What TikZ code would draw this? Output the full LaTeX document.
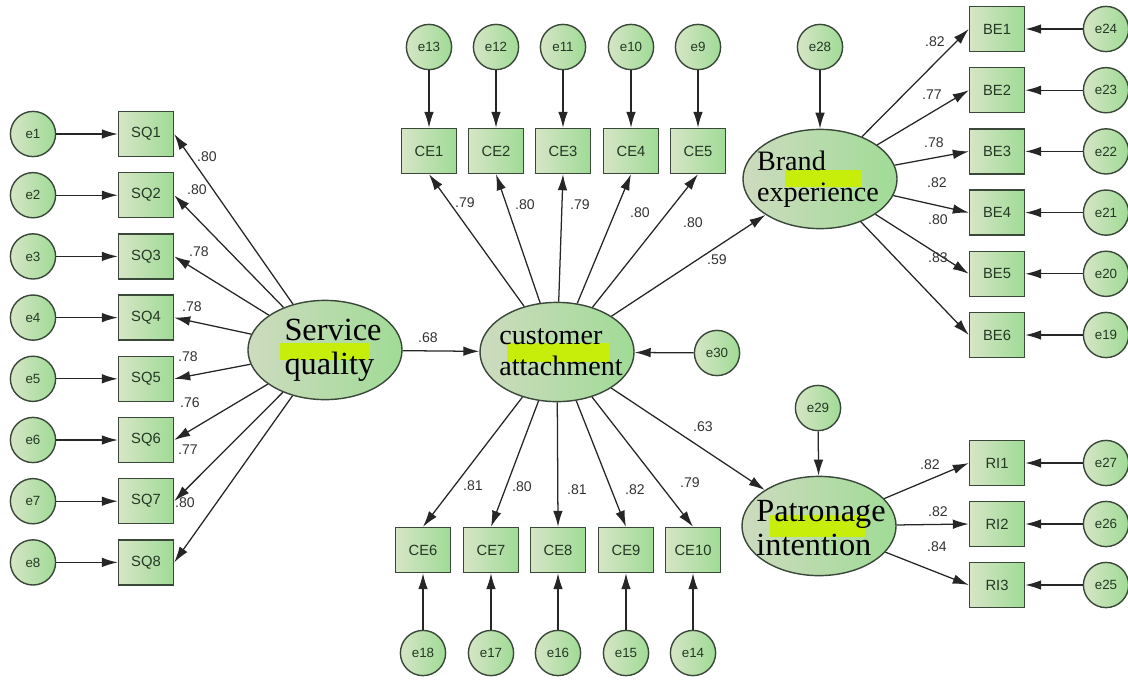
\documentclass[tikz,border=0pt]{standalone}
\usepackage{fontspec}
\setmainfont{Liberation Serif}
\setsansfont{Liberation Sans}
\usetikzlibrary{arrows.meta,shapes.geometric}

\definecolor{fillLight}{HTML}{D6E5C6}
\definecolor{fillDark}{HTML}{A0DB96}
\definecolor{rimColor}{HTML}{3A483A}
\definecolor{markColor}{HTML}{C6EE0A}
\definecolor{nameColor}{HTML}{243824}

\tikzset{
    obsBox/.style={rectangle, draw=rimColor, line width=1pt,
        left color=fillLight, right color=fillDark,
        minimum width=1.375cm, minimum height=1.125cm, inner sep=0pt,
        text=nameColor, font=\sffamily\fontsize{10.5}{12}\selectfont},
    errCircle/.style={circle, draw=rimColor, line width=1pt,
        left color=fillLight, right color=fillDark,
        minimum size=1.13cm, inner sep=0pt,
        text=nameColor, font=\sffamily\fontsize{9.5}{11}\selectfont},
    latent/.style={ellipse, draw=rimColor, line width=1pt,
        left color=fillLight!90!gray, right color=fillDark,
        minimum width=3.85cm, minimum height=2.48cm, inner sep=0pt},
    latentText/.style={align=left, inner sep=0pt,
        font=\fontsize{20}{22}\selectfont},
    bigText/.style={font=\fontsize{23}{24}\selectfont},
    coefText/.style={inner sep=0pt, text=black!80,
        font=\sffamily\fontsize{10}{12}\selectfont},
    link/.style={draw=black!85, line width=0.9pt,
        -{Latex[length=4mm,width=2.4mm]}}
}

\newcommand{\markBar}[4]
{
    \fill[markColor] (#1,#2) rectangle (#3,#4);
}

\begin{document}
\begin{tikzpicture}[x=0.025cm, y=-0.025cm]

    \useasboundingbox (0,0) rectangle (1128,679);

    %draws latent variables
    \node[latent] (sq) at (325,350) {};
    \markBar{280}{343}{370}{360};
    \node[latentText, bigText] (sqtxt) at (333,350) {Service\\quality};

    \node[latent] (ca) at (557,352) {};
    \markBar{507}{343}{610}{362};
    \node[latentText] (catxt) at (561,352) {customer\\attachment};

    \node[latent] (be) at (820,179) {};
    \markBar{785}{170}{862}{187};
    \node[latentText] (betxt) at (818,179) {Brand\\experience};

    \node[latent] (pi) at (819,526) {};
    \markBar{770}{515}{865}{537};
    \node[latentText, bigText] (pitxt) at (821,528) {Patronage\\intention};

    %draws disturbances of latent variables
    \node[errCircle] (e28) at (820,47) {e28};
    \node[errCircle] (e29) at (818,408) {e29};
    \node[errCircle] (e30) at (717,353) {e30};
    \draw[link] (e28) -- (be);
    \draw[link] (e29) -- (pi);
    \draw[link] (e30) -- (ca);

    %draws structural paths
    \draw[link] (sq) -- (ca);
    \draw[link] (ca) -- (be);
    \draw[link] (ca) -- (pi);
    \node[coefText] (lsqca) at (428,338) {.68};
    \node[coefText] (lcabe) at (717,260) {.59};
    \node[coefText] (lcapi) at (703,427) {.63};

    %draws service quality items
    \foreach \i/\lx/\ly/\val in {1/207/157/.80, 2/197/190/.80, 3/199/252/.78,
        4/192/307/.78, 5/188/357/.78, 6/190/403/.76, 7/188/450/.77, 8/185/503/.80}
    {
        \pgfmathsetmacro{\yy}{134+61.2*(\i-1)}
        \node[errCircle] (e\i) at (33,\yy) {e\i};
        \node[obsBox] (sq\i) at (146,\yy) {SQ\i};
        \draw[link] (e\i) -- (sq\i);
        \draw[link] (sq) -- (sq\i.east);
        \node[coefText] (lsq\i) at (\lx,\ly) {\val};
    }

    %draws customer attachment items, top row
    \foreach \i/\e/\xx/\lx/\ly/\val in {1/13/429/465/203/.79, 2/12/496/525/205/.80,
        3/11/563/580/205/.79, 4/10/631/640/213/.80, 5/9/698/693/223/.80}
    {
        \node[errCircle] (e\e) at (\xx,47) {e\e};
        \node[obsBox] (ce\i) at (\xx,151) {CE\i};
        \draw[link] (e\e) -- (ce\i);
        \draw[link] (ca) -- (ce\i.south);
        \node[coefText] (lce\i) at (\lx,\ly) {\val};
    }

    %draws customer attachment items, bottom row
    \foreach \i/\e/\xx/\lx/\ly/\val in {6/18/423/473/486/.81, 7/17/491/522/487/.80,
        8/16/558/577/490/.81, 9/15/626/635/490/.82, 10/14/693/690/483/.79}
    {
        \node[errCircle] (e\e) at (\xx,653) {e\e};
        \node[obsBox] (ce\i) at (\xx,550) {CE\i};
        \draw[link] (e\e) -- (ce\i);
        \draw[link] (ca) -- (ce\i.north);
        \node[coefText] (lce\i) at (\lx,\ly) {\val};
    }

    %draws brand experience items
    \foreach \i/\e/\lx/\ly/\val in {1/24/935/42/.82, 2/23/932/95/.77, 3/22/934/143/.78,
        4/21/937/183/.82, 5/20/938/220/.80, 6/19/938/258/.83}
    {
        \pgfmathsetmacro{\yy}{29+61.2*(\i-1)}
        \node[errCircle] (e\e) at (1106,\yy) {e\e};
        \node[obsBox] (be\i) at (997,\yy) {BE\i};
        \draw[link] (e\e) -- (be\i);
        \draw[link] (be) -- (be\i.west);
        \node[coefText] (lbe\i) at (\lx,\ly) {\val};
    }

    %draws patronage intention items
    \foreach \i/\e/\yy/\lx/\ly/\val in {1/27/463/930/465/.82, 2/26/524/938/512/.82,
        3/25/585/937/547/.84}
    {
        \node[errCircle] (e\e) at (1106,\yy) {e\e};
        \node[obsBox] (ri\i) at (997,\yy) {RI\i};
        \draw[link] (e\e) -- (ri\i);
        \draw[link] (pi) -- (ri\i.west);
        \node[coefText] (lri\i) at (\lx,\ly) {\val};
    }

\end{tikzpicture}
\end{document}
